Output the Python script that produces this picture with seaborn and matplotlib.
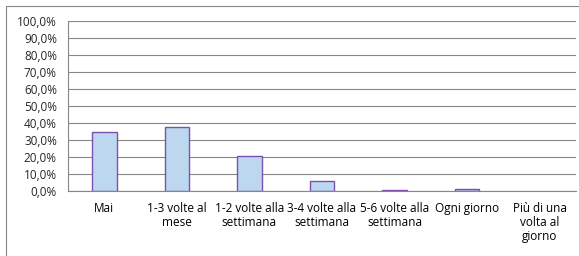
import numpy as np
import pandas as pd
import seaborn as sns
import matplotlib.pyplot as plt
from matplotlib.patches import Rectangle
from matplotlib.ticker import FuncFormatter, MultipleLocator

# Data
categories = ["Mai", "1-3 volte al\nmese", "1-2 volte alla\nsettimana", "3-4 volte alla\nsettimana",
              "5-6 volte alla\nsettimana", "Ogni giorno", "Più di una\nvolta al\ngiorno"]
values = [0.347, 0.376, 0.205, 0.056, 0.004, 0.009, 0.0]

df = pd.DataFrame({"cat": categories, "val": values})

sns.set_style("white")
plt.rcParams['font.family'] = ['Open Sans', 'DejaVu Sans']

fig = plt.figure(figsize=(5.79, 2.56), dpi=100)
# outer chart border
fig.patches.append(Rectangle((6 / 579, -0.1), 1.2, 1 - 6 / 256 + 0.1, transform=fig.transFigure,
                             fill=False, edgecolor='#868686', linewidth=0.8))
ax = fig.add_axes([68 / 579, 1 - 191 / 256, (576 - 68) / 579, 170 / 256])

sns.barplot(data=df, x="cat", y="val", ax=ax, width=0.34, color='#BDD7EE',
            edgecolor='#7F4FB0', linewidth=1.0, saturation=1)
# empty bars leave no visible outline
for p in ax.patches:
    if p.get_height() == 0:
        p.set_linewidth(0)

ax.set_ylim(0, 1.0)
ax.set_xlim(-0.5, 6.5)
ax.yaxis.set_major_locator(MultipleLocator(0.1))
ax.yaxis.set_major_formatter(FuncFormatter(lambda v, p: f"{v * 100:.1f}%".replace('.', ',')))
ax.grid(axis='y', color='#868686', linewidth=0.8)
ax.set_axisbelow(True)
for s in ['top', 'right']:
    ax.spines[s].set_visible(False)
ax.spines['left'].set_color('#868686')
ax.spines['bottom'].set_color('#868686')
ax.spines['left'].set_linewidth(0.8)
ax.spines['bottom'].set_linewidth(0.8)

ax.set_xticks(np.arange(7))
ax.set_xticks(np.arange(-0.5, 7, 1), minor=True)
ax.tick_params(axis='x', which='major', length=0, pad=8, labelsize=8.5, colors='black')
ax.tick_params(axis='x', which='minor', length=4, width=0.8, color='#868686', direction='out')
ax.tick_params(axis='y', length=4, width=0.8, color='#868686', direction='out', pad=4, labelsize=8.5)
for lbl in ax.get_xticklabels():
    lbl.set_linespacing(1.1)
ax.set_xlabel("")
ax.set_ylabel("")

fig.savefig("out.png", dpi=100)
